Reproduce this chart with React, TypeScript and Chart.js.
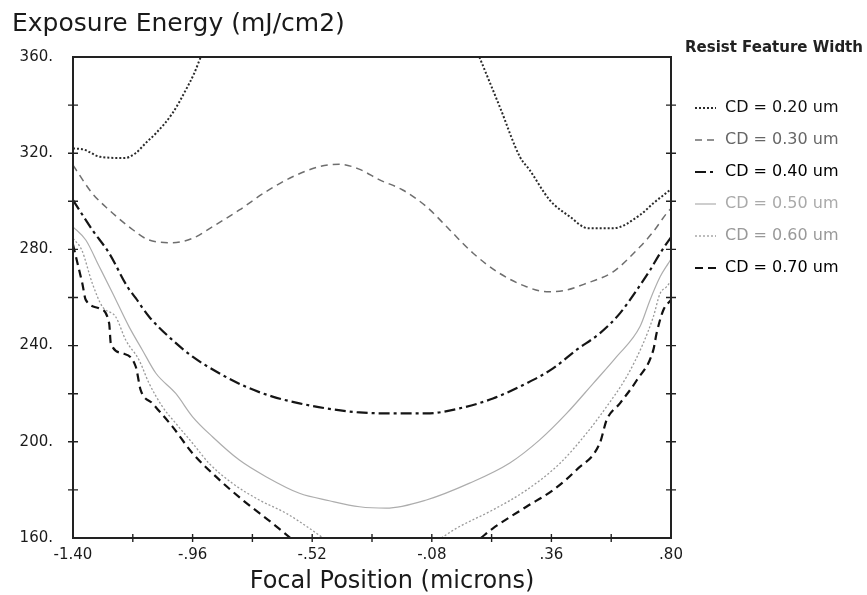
import React, { useEffect, useRef } from 'react';
import { Chart, registerables } from 'chart.js';

Chart.register(...registerables);

// ---- Axis ticks ----
const xTickValues = [-1.4, -1.18, -0.96, -0.74, -0.52, -0.3, -0.08, 0.14, 0.36, 0.58, 0.8];
const yTickValues = [160, 180, 200, 220, 240, 260, 280, 300, 320, 340, 360];

// ---- Series labels ----
const seriesLabels = ['CD = 0.20 um', 'CD = 0.30 um', 'CD = 0.40 um', 'CD = 0.50 um', 'CD = 0.60 um', 'CD = 0.70 um'];

// ---- Series data (focal position, exposure energy); null = curve leaves the plot ----
const cd020X = [-1.4, -1.36, -1.3, -1.21, -1.17, -1.13, -1.095, -1.034, -0.985, -0.955, -0.93, -0.4, 0.095, 0.17, 0.244, 0.28, 0.354, 0.428, 0.495, 0.587, 0.686, 0.735, 0.8];
const cd020Y = [322, 321.5, 318.5, 318, 320, 324.5, 328.3, 336.6, 346.3, 353, 360, null, 360, 339.3, 318.5, 313, 300.5, 293.6, 288.8, 288.8, 294.3, 299.2, 305];

const cd030X = [-1.4, -1.329, -1.267, -1.194, -1.12, -1.034, -0.96, -0.887, -0.788, -0.69, -0.592, -0.494, -0.42, -0.35, -0.272, -0.187, -0.1, -0.014, 0.072, 0.17, 0.268, 0.342, 0.403, 0.489, 0.587, 0.686, 0.735, 0.784, 0.8];
const cd030Y = [315, 303.3, 296.4, 289.4, 283.9, 282.8, 284.6, 289.4, 296.4, 304, 310.2, 314.4, 315.4, 313.5, 308.9, 304.7, 297.8, 288.1, 278.4, 270, 264.5, 262.4, 262.8, 265.9, 270.7, 281.1, 287.4, 295, 297];

const cd040X = [-1.4, -1.329, -1.267, -1.2, -1.169, -1.12, -1.034, -0.96, -0.862, -0.764, -0.666, -0.567, -0.469, -0.346, -0.223, -0.1, 0.022, 0.145, 0.268, 0.366, 0.452, 0.538, 0.612, 0.674, 0.723, 0.76, 0.784, 0.8];
const cd040Y = [300.5, 288.1, 278.4, 264.5, 259.7, 252, 242.3, 235.4, 228.5, 222.9, 218.8, 216, 213.9, 212.2, 211.8, 211.8, 213.9, 218, 224.3, 230.5, 238.2, 245.1, 253.4, 263.1, 271.4, 278.4, 282.5, 285];

const cd050X = [-1.4, -1.353, -1.304, -1.255, -1.194, -1.145, -1.095, -1.022, -0.96, -0.887, -0.788, -0.69, -0.567, -0.457, -0.346, -0.248, -0.1, 0.059, 0.207, 0.317, 0.416, 0.514, 0.6, 0.686, 0.723, 0.76, 0.79, 0.8];
const cd050Y = [289.4, 283.9, 273, 262, 247.9, 238.2, 228.5, 220.1, 210.4, 202.1, 192.4, 185.5, 178.6, 175.5, 173, 172.4, 175.8, 182.8, 191.2, 200.8, 211.8, 224.3, 235.4, 247.9, 259, 268.6, 274.2, 276];

const cd060X = [-1.4, -1.368, -1.329, -1.292, -1.243, -1.206, -1.157, -1.12, -1.071, -1.022, -0.96, -0.899, -0.813, -0.715, -0.616, -0.53, -0.48, -0.26, -0.045, 0.01, 0.145, 0.268, 0.391, 0.489, 0.563, 0.637, 0.698, 0.735, 0.76, 0.784, 0.8];
const cd060Y = [284.6, 279.8, 265.9, 256.2, 252, 242.3, 234, 224.3, 214.6, 207.7, 199.4, 191, 182.7, 175.8, 170.3, 164, 160, null, 160, 164, 171.7, 179.9, 191, 203.5, 214.6, 227.1, 241, 252, 261.7, 264.5, 267];

const cd070X = [-1.4, -1.385, -1.366, -1.353, -1.304, -1.267, -1.261, -1.218, -1.169, -1.151, -1.108, -1.034, -0.96, -0.874, -0.776, -0.666, -0.6, -0.25, 0.1, 0.145, 0.268, 0.366, 0.452, 0.538, 0.563, 0.612, 0.674, 0.735, 0.747, 0.772, 0.8];
const cd070Y = [282, 275, 266, 259, 255.5, 249.3, 241, 236.8, 231.2, 221.5, 216, 206.3, 195.2, 185.5, 175.8, 166.1, 160, null, 160, 164, 173, 179.9, 188.3, 199.4, 209, 216, 225.6, 238.2, 245.1, 254.8, 259];

const seriesX = [cd020X, cd030X, cd040X, cd050X, cd060X, cd070X];
const seriesY = [cd020Y, cd030Y, cd040Y, cd050Y, cd060Y, cd070Y];

// ---- Styles ----
const lineColors = ['#2a2a2a', '#6e6e6e', '#151515', '#adadad', '#9a9a9a', '#111111'];
const lineDashes = [[2, 2], [7, 5], [11, 4, 3, 4], [], [2, 2], [8, 5]];
const lineWidths = [2, 1.5, 2.2, 1.2, 1.3, 2.2];
const legendTextColors = ['#111', '#666', '#000', '#aaa', '#999', '#000'];

const FONT = "'DejaVu Sans', sans-serif";

const fmtX = (v: number) => v.toFixed(2).replace(/^(-?)0\./, '$1.');

const decorPlugin = {
  id: 'decor',
  afterDatasetsDraw(chart: any) {
    const { ctx, chartArea: a, scales } = chart;
    ctx.save();
    ctx.setLineDash([]);
    ctx.strokeStyle = '#222';
    ctx.lineWidth = 2;
    ctx.strokeRect(a.left, a.top, a.right - a.left, a.bottom - a.top);
    ctx.lineWidth = 1.4;
    const ys = scales.y;
    ys.ticks.forEach((t: any) => {
      const p = ys.getPixelForValue(t.value);
      if (p <= a.top + 1 || p >= a.bottom - 1) return;
      ctx.beginPath();
      ctx.moveTo(a.left - 5, p); ctx.lineTo(a.left + 5, p);
      ctx.moveTo(a.right - 5, p); ctx.lineTo(a.right + 5, p);
      ctx.stroke();
    });
    const xs = scales.x;
    xs.ticks.forEach((t: any) => {
      const p = xs.getPixelForValue(t.value);
      if (p <= a.left + 1 || p >= a.right - 1) return;
      ctx.beginPath();
      ctx.moveTo(p, a.bottom - 4); ctx.lineTo(p, a.bottom + 4);
      ctx.stroke();
    });
    ctx.restore();
  },
  afterDraw(chart: any) {
    const { ctx } = chart;
    ctx.save();
    ctx.fillStyle = '#1a1a1a';
    ctx.textAlign = 'left';
    ctx.textBaseline = 'alphabetic';
    ctx.font = `25px ${FONT}`;
    ctx.fillText('Exposure Energy (mJ/cm2)', 12, 31);
    ctx.textAlign = 'center';
    ctx.font = `24px ${FONT}`;
    ctx.fillText('Focal Position (microns)', 392, 588);
    ctx.textAlign = 'left';
    ctx.textBaseline = 'middle';
    ctx.font = `bold 15px ${FONT}`;
    ctx.fillStyle = '#222';
    ctx.fillText('Resist Feature Width', 685, 48);
    ctx.font = `16px ${FONT}`;
    chart.data.datasets.forEach((ds: any, i: number) => {
      const y = 108 + i * 32;
      ctx.save();
      ctx.strokeStyle = ds.borderColor;
      ctx.lineWidth = ds.borderWidth;
      ctx.setLineDash(ds.borderDash || []);
      ctx.beginPath();
      ctx.moveTo(695, y);
      ctx.lineTo(716, y);
      ctx.stroke();
      ctx.restore();
      ctx.fillStyle = legendTextColors[i];
      ctx.fillText(ds.label, 725, y);
    });
    ctx.restore();
  },
};

export default function App() {
  const canvasRef = useRef<HTMLCanvasElement | null>(null);

  useEffect(() => {
    if (!canvasRef.current) return;
    const datasets = seriesLabels.map((label, i) => ({
      label,
      data: seriesX[i].map((x, j) => ({ x, y: seriesY[i][j] })),
      borderColor: lineColors[i],
      borderDash: lineDashes[i],
      borderWidth: lineWidths[i],
      pointRadius: 0,
      fill: false,
      spanGaps: false,
      cubicInterpolationMode: 'monotone' as const,
    }));
    const chart = new Chart(canvasRef.current, {
      type: 'line',
      data: { datasets },
      options: {
        animation: false,
        responsive: true,
        maintainAspectRatio: false,
        devicePixelRatio: 1,
        layout: { padding: { top: 57, right: 196, bottom: 0, left: 0 } },
        plugins: {
          legend: { display: false },
          title: { display: false },
          tooltip: { enabled: false },
        },
        scales: {
          x: {
            type: 'linear',
            min: -1.4,
            max: 0.8,
            afterBuildTicks: (s: any) => { s.ticks = xTickValues.map((v) => ({ value: v })); },
            afterFit: (s: any) => { s.height = 57; },
            grid: { display: false, drawTicks: false },
            border: { display: false },
            ticks: {
              autoSkip: false,
              maxRotation: 0,
              padding: 8,
              color: '#1a1a1a',
              font: { family: FONT, size: 15 },
              callback: (v: any, idx: number) => (idx % 2 === 0 ? fmtX(Number(v)) : ''),
            },
          },
          y: {
            type: 'linear',
            min: 160,
            max: 360,
            afterBuildTicks: (s: any) => { s.ticks = yTickValues.map((v) => ({ value: v })); },
            afterFit: (s: any) => { s.width = 73; },
            grid: { display: false, drawTicks: false },
            border: { display: false },
            ticks: {
              autoSkip: false,
              padding: 20,
              color: '#1a1a1a',
              font: { family: FONT, size: 15 },
              callback: (v: any) => (Number(v) % 40 === 0 ? `${v}.` : ''),
            },
          },
        },
      },
      plugins: [decorPlugin],
    });
    return () => chart.destroy();
  }, []);

  return (
    <div style={{ position: 'fixed', left: 0, top: 0, width: 867, height: 595, background: '#fff' }}>
      <canvas ref={canvasRef} />
    </div>
  );
}
